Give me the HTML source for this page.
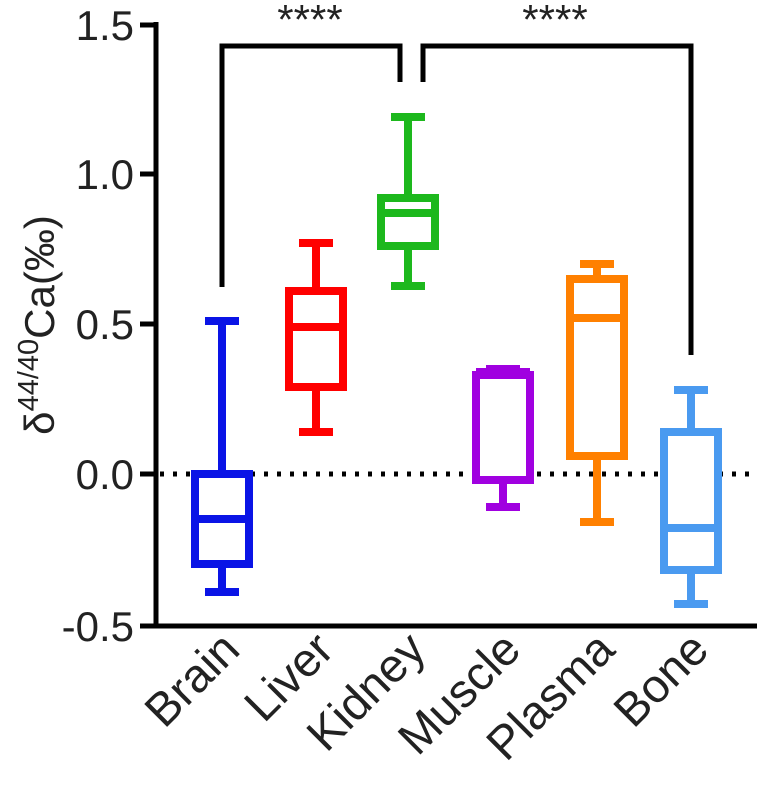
<!DOCTYPE html>
<html><head><style>body{margin:0;background:#fff}</style></head><body>
<svg width="762" height="794" xmlns="http://www.w3.org/2000/svg" font-family="Liberation Sans, Arial, sans-serif">
<g stroke="#000" stroke-width="5" fill="none">
<line x1="156" y1="22" x2="156" y2="628"/>
<line x1="153" y1="626" x2="757" y2="626"/>
<line x1="140" y1="25" x2="156" y2="25"/>
<line x1="140" y1="174" x2="156" y2="174"/>
<line x1="140" y1="324" x2="156" y2="324"/>
<line x1="140" y1="474" x2="156" y2="474"/>
<line x1="140" y1="626" x2="156" y2="626"/>
<polyline points="222,287 222,46 400,46 400,82"/>
<polyline points="423,82 423,46 691,46 691,355"/>
</g>
<line x1="160" y1="474" x2="757" y2="474" stroke="#000" stroke-width="5" stroke-dasharray="4,9"/>
<g font-size="42" text-anchor="end" fill="#222">
<text x="134" y="40">1.5</text><text x="134" y="189">1.0</text><text x="134" y="339">0.5</text><text x="134" y="489">0.0</text><text x="134" y="641">-0.5</text>
</g>
<text transform="translate(54,325) rotate(-90)" text-anchor="middle" font-size="42" fill="#222">δ<tspan dy="-16" font-size="29">44/40</tspan><tspan dy="16">Ca(‰)</tspan></text>
<g font-size="42" fill="#222" text-anchor="middle">
<text x="310" y="34">****</text><text x="555" y="34">****</text>
</g>
<g font-size="47" fill="#222" text-anchor="end">
<text transform="translate(242,652) rotate(-45)">Brain</text>
<text transform="translate(336,652) rotate(-45)">Liver</text>
<text transform="translate(428,652) rotate(-45)">Kidney</text>
<text transform="translate(523,652) rotate(-45)">Muscle</text>
<text transform="translate(617,652) rotate(-45)">Plasma</text>
<text transform="translate(711,652) rotate(-45)">Bone</text>
</g>
<g stroke-width="8" fill="none">
<g stroke="#0a14e6"><line x1="222" y1="321" x2="222" y2="592"/><line x1="205" y1="321" x2="239" y2="321"/><line x1="205" y1="592" x2="239" y2="592"/><rect x="195" y="474" width="54" height="90" fill="#fff"/><line x1="195" y1="519" x2="249" y2="519"/></g>
<g stroke="#ff0000"><line x1="316" y1="243" x2="316" y2="432"/><line x1="299" y1="243" x2="333" y2="243"/><line x1="299" y1="432" x2="333" y2="432"/><rect x="289" y="291" width="54" height="96" fill="#fff"/><line x1="289" y1="327" x2="343" y2="327"/></g>
<g stroke="#1db81d"><line x1="408" y1="117" x2="408" y2="286"/><line x1="391" y1="117" x2="425" y2="117"/><line x1="391" y1="286" x2="425" y2="286"/><rect x="381" y="198" width="54" height="48" fill="#fff"/><line x1="381" y1="213" x2="435" y2="213"/></g>
<g stroke="#a000e0"><line x1="503" y1="369" x2="503" y2="507"/><line x1="486" y1="369" x2="520" y2="369"/><line x1="486" y1="507" x2="520" y2="507"/><rect x="476" y="375" width="54" height="105" fill="#fff"/><line x1="476" y1="372" x2="530" y2="372"/></g>
<g stroke="#ff8000"><line x1="597" y1="264" x2="597" y2="522"/><line x1="580" y1="264" x2="614" y2="264"/><line x1="580" y1="522" x2="614" y2="522"/><rect x="570" y="279" width="54" height="177" fill="#fff"/><line x1="570" y1="318" x2="624" y2="318"/></g>
<g stroke="#4a9af0"><line x1="691" y1="390" x2="691" y2="604"/><line x1="674" y1="390" x2="708" y2="390"/><line x1="674" y1="604" x2="708" y2="604"/><rect x="664" y="432" width="54" height="138" fill="#fff"/><line x1="664" y1="528" x2="718" y2="528"/></g>
</g>
</svg>
</body></html>
